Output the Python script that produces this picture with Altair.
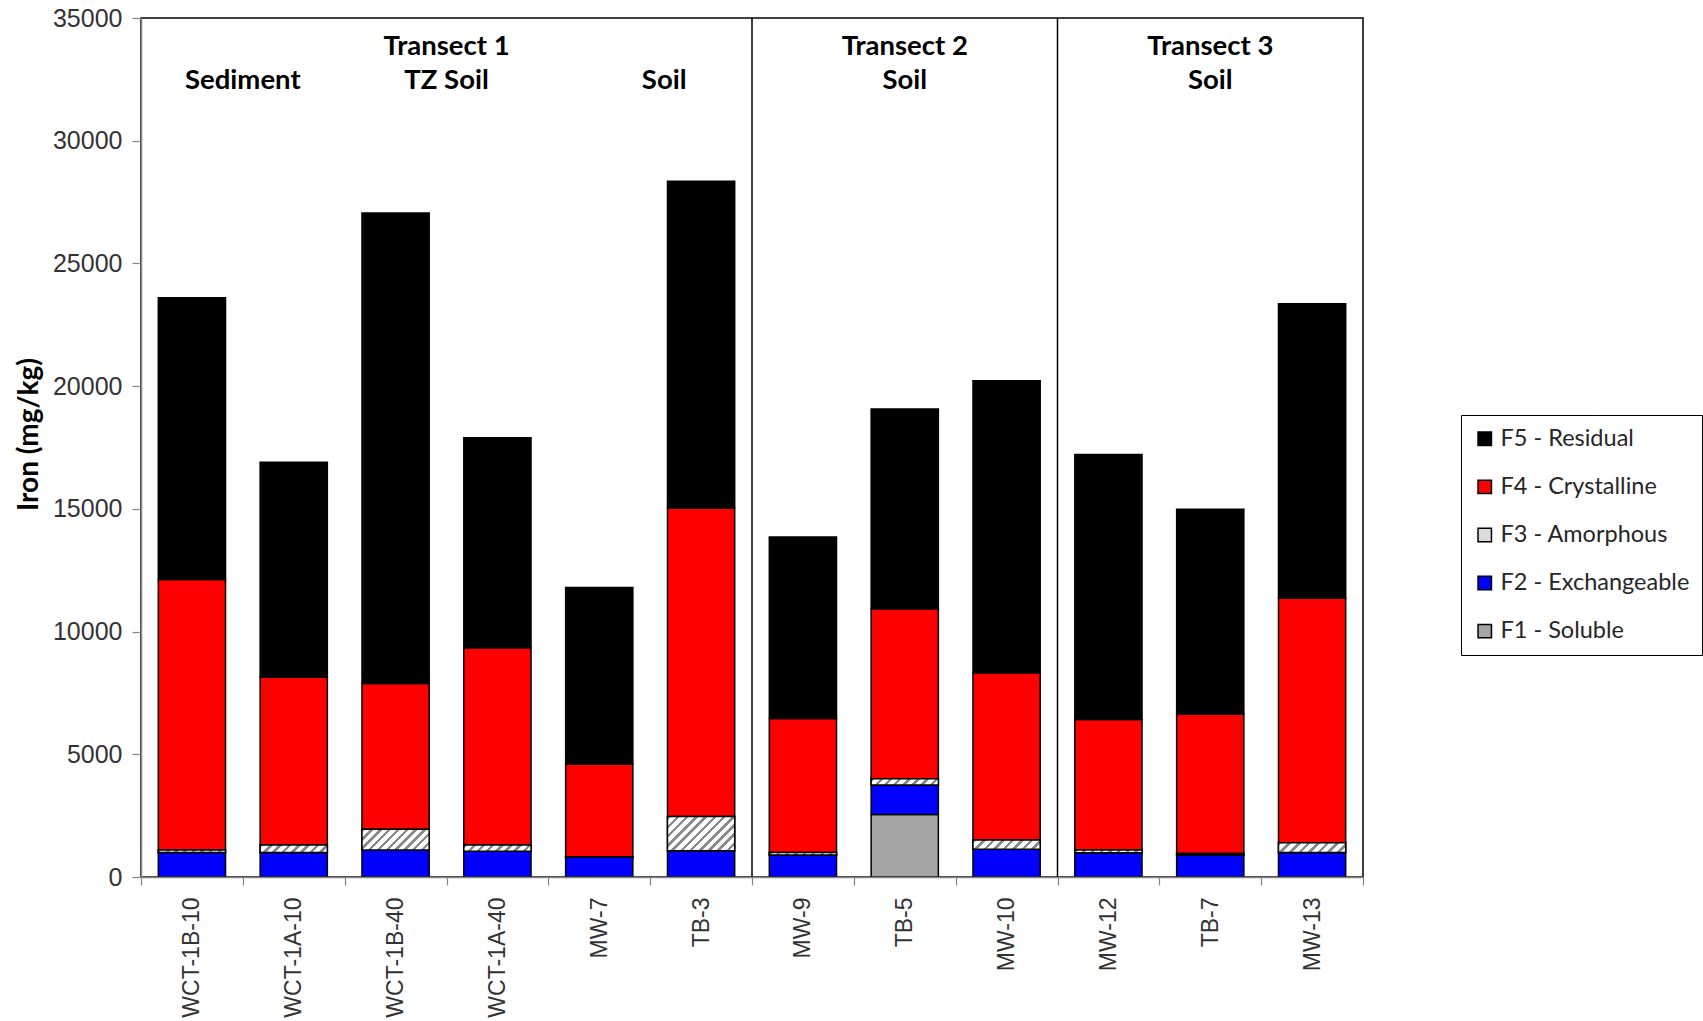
import altair as alt

# Iron fractionation by sequential extraction (mg/kg), one stacked bar per sample
samples = ["WCT-1B-10", "WCT-1A-10", "WCT-1B-40", "WCT-1A-40", "MW-7", "TB-3",
           "MW-9", "TB-5", "MW-10", "MW-12", "TB-7", "MW-13"]
fractions = ["F1 - Soluble", "F2 - Exchangeable", "F3 - Amorphous",
             "F4 - Crystalline", "F5 - Residual"]
f1_soluble = [0, 0, 0, 0, 0, 0, 0, 2550, 0, 0, 0, 0]
f2_exchangeable = [1000, 1000, 1100, 1050, 800, 1070, 900, 1200, 1130, 990, 900, 1000]
f3_amorphous = [100, 300, 850, 250, 30, 1400, 100, 250, 380, 110, 60, 400]
f4_crystalline = [11020, 6840, 5930, 8040, 3770, 12570, 5460, 6930, 6810, 5320, 5680, 9970]
f5_residual = [11480, 8760, 19170, 8560, 7200, 13310, 7390, 8140, 11900, 10790, 8340, 11990]

y_ticks = [0, 5000, 10000, 15000, 20000, 25000, 30000, 35000]

# Group headings: (text, sample, y)
headings_edge = [("Transect 1", "WCT-1A-40", 33820), ("Sediment", "WCT-1A-10", 32440),
                 ("TZ Soil", "WCT-1A-40", 32440)]
headings_soil1 = [("Soil", "TB-3", 32440)]
headings_mid = [("Transect 2", "TB-5", 33820), ("Soil", "TB-5", 32440),
                ("Transect 3", "TB-7", 33820), ("Soil", "TB-7", 32440)]
transect_starts = ["MW-9", "MW-12"]

colors = {"F1 - Soluble": "#a5a5a5", "F2 - Exchangeable": "#0000ff",
          "F3 - Amorphous": "#dcdcdc", "F4 - Crystalline": "#ff0000",
          "F5 - Residual": "#000000"}

PLOT_W, PLOT_H = 1222, 859
Y_MAX = 35000
BAR_BAND = 0.66


def hatch_fill(value):
    """Diagonal '/' hatch as a striped linear gradient sized to the segment."""
    w = BAR_BAND * PLOT_W / len(samples)
    h = max(value * PLOT_H / Y_MAX, 0.5)
    c = (w + h) / (w * w + h * h)
    n = max(1, round((w + h) / (2 ** 0.5 * 6.5)))
    stops = []
    for j in range(n):
        a, b, e = j / n, (j + 0.38) / n, (j + 1) / n
        stops += [{"offset": a, "color": "#8a8a8a"}, {"offset": b, "color": "#8a8a8a"},
                  {"offset": b, "color": "#ffffff"}, {"offset": e, "color": "#ffffff"}]
    return {"gradient": "linear", "x1": 0, "y1": 0, "x2": c * w, "y2": c * h, "stops": stops}


rows = []
series = [f1_soluble, f2_exchangeable, f3_amorphous, f4_crystalline, f5_residual]
for i, s in enumerate(samples):
    for k, (name, vals) in enumerate(zip(fractions, series)):
        if vals[i] > 0:
            row = {"sample": s, "fraction": name, "order": k, "value": vals[i]}
            if k == 2:
                row["hatch"] = hatch_fill(vals[i])
            rows.append(row)

x_enc = alt.X(
    "sample:N", sort=samples,
    scale=alt.Scale(paddingInner=0, paddingOuter=0),
    axis=alt.Axis(title=None, labelAngle=-90, tickBand="extent", labelFont="Liberation Sans",
                  labelFontSize=23, labelColor="#333333", tickColor="#868686",
                  domainColor="#868686", domainWidth=1.5, tickWidth=1.2, tickSize=8,
                  labelPadding=12, zindex=1),
)
y_scale = alt.Scale(domain=[0, Y_MAX], nice=False, zero=True)
y_enc = alt.Y(
    "y0:Q", scale=y_scale,
    axis=alt.Axis(values=y_ticks, format="d", title="Iron (mg/kg)", titleFont="Lato",
                  titleFontWeight="bold", titleFontSize=28, titleColor="#000000",
                  titlePadding=9, titleY=416, labelFont="Liberation Sans", labelFontSize=25,
                  labelColor="#333333", tickColor="#868686", domainColor="#868686",
                  domainWidth=1.5, tickWidth=1.2, tickSize=9, labelPadding=10,
                  grid=False, zindex=1),
)

stacked = alt.Chart(alt.Data(values=rows)).transform_stack(
    stack="value", groupby=["sample"], as_=["y0", "y1"],
    sort=[alt.SortField("order", order="ascending")],
)

bars = stacked.mark_bar(width=alt.RelativeBandSize(BAR_BAND), stroke="#000000",
                        strokeWidth=1.5).encode(
    x=x_enc, y=y_enc, y2="y1:Q",
    fill=alt.Fill(
        "fraction:N",
        scale=alt.Scale(domain=fractions[::-1], range=[colors[f] for f in fractions[::-1]]),
        legend=alt.Legend(title=None, orient="none", legendX=1320, legendY=397,
                          symbolType="square", symbolSize=180, symbolStrokeColor="#000000",
                          symbolStrokeWidth=1.5, labelFont="Lato", labelFontSize=23.5,
                          labelColor="#262626", labelOffset=4, rowPadding=23.1, padding=12,
                          strokeColor="#000000", labelLimit=400),
    ),
)

hatch = stacked.transform_filter(alt.datum.order == 2).mark_bar(
    width=alt.RelativeBandSize(BAR_BAND), stroke="#000000", strokeWidth=1.5
).encode(x=alt.X("sample:N", sort=samples), y="y0:Q", y2="y1:Q",
         fill=alt.Fill("hatch:N", scale=None))

sep_rows = [{"sample": s, "lo": 0, "hi": Y_MAX} for s in transect_starts]
separators = alt.Chart(alt.Data(values=sep_rows)).mark_rule(
    color="#000000", strokeWidth=1.5
).encode(x=alt.X("sample:N", sort=samples, bandPosition=0), y="lo:Q", y2="hi:Q")


def heading_layer(items, band_pos, dx=0):
    data = alt.Data(values=[{"label": t, "sample": s, "yv": y} for t, s, y in items])
    return alt.Chart(data).mark_text(
        font="Lato", fontWeight="bold", fontSize=27.5, color="#000000",
        baseline="middle", align="center", dx=dx,
    ).encode(x=alt.X("sample:N", sort=samples, bandPosition=band_pos),
             y="yv:Q", text="label:N")


chart = alt.layer(
    bars, hatch, separators,
    heading_layer(headings_edge, 0),
    heading_layer(headings_soil1, 0, dx=14),
    heading_layer(headings_mid, 0.5),
).properties(
    width=PLOT_W, height=PLOT_H,
    autosize=alt.AutoSizeParams(type="none"),
    padding={"left": 141, "top": 18, "right": 340, "bottom": 144},
    background="#ffffff",
).configure_view(stroke="#000000", strokeWidth=1.5)

chart.save("out.html", embed_options={"renderer": "svg", "actions": False})
